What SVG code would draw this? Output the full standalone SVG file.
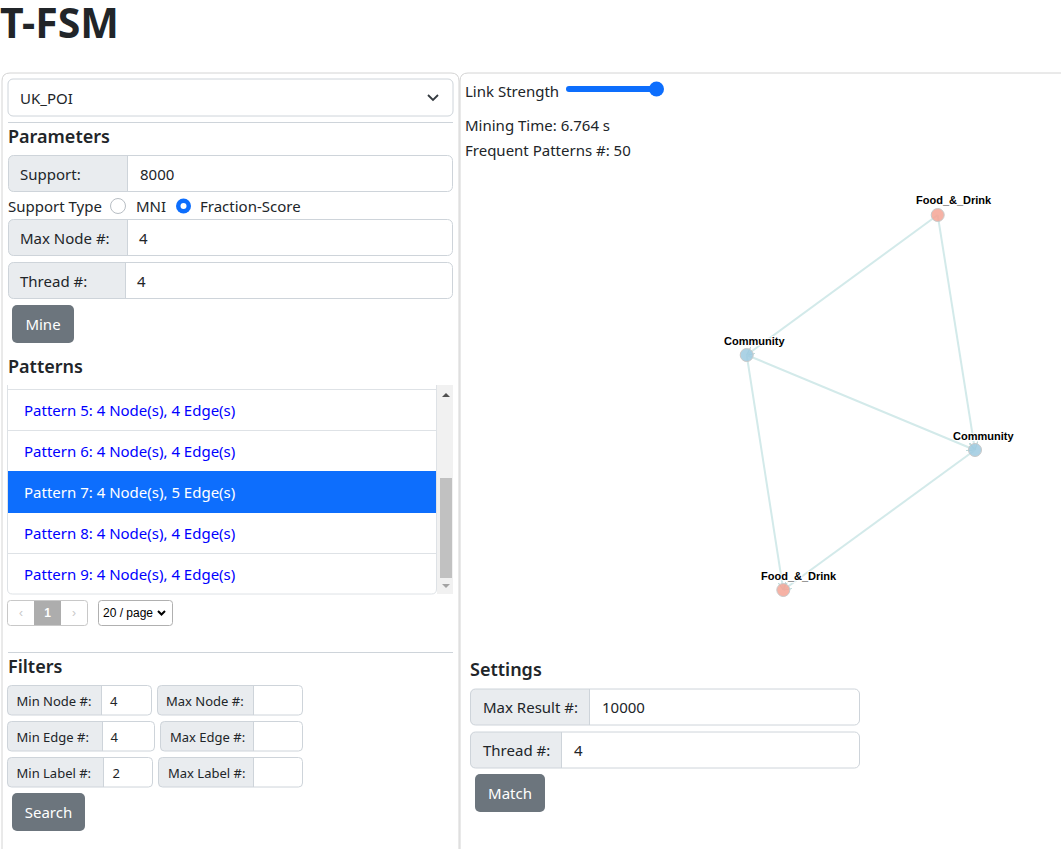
<svg xmlns="http://www.w3.org/2000/svg" width="1061" height="849" viewBox="0 0 1061 849">
<style>
text{font-family:"Noto Sans","Open Sans","DejaVu Sans",sans-serif;fill:#212529}
.t{font-size:15px}
.s{font-size:13px}
.h{font-size:18px;font-weight:600}
.lbl{fill:#e9ecef}
.box{fill:none;stroke:#ced4da;stroke-width:1}
.inp{fill:#fff;stroke:#ced4da;stroke-width:1}
.sep{stroke:#ced4da;stroke-width:1}
.btn{fill:#6c757d}
.bt{fill:#fff;font-size:15px;text-anchor:middle}
.pat{fill:#0000ff;font-size:15px}
.edge{stroke:#d3eaea;stroke-width:2;fill:none}
.nl{font-family:"Liberation Sans",Arial,sans-serif;font-size:11px;font-weight:bold;fill:#000;stroke:#fff;stroke-width:2;paint-order:stroke}
.food{fill:#f4a595;fill-opacity:0.85;stroke:#c8c8c8;stroke-width:1}
.comm{fill:#9ecae1;fill-opacity:0.85;stroke:#c8c8c8;stroke-width:1}
</style>
<defs>
<marker id="arr" viewBox="0 0 10 10" refX="10" refY="5" markerWidth="4" markerHeight="4" orient="auto" markerUnits="strokeWidth">
<path d="M0,0 L10,5 L0,10" fill="none" stroke="#b9d9d9" stroke-width="1.5"/>
</marker>
</defs>
<rect width="1061" height="849" fill="#fff"/>

<text x="0" y="38" style="font-size:41px;font-weight:bold">T-FSM</text>

<!-- left panel -->
<g id="left-panel">
<path d="M2,860 V81 Q2,73 10,73 H451 Q459,73 459,81 V860" fill="none" stroke="#d4d4d4"/>
<g id="dataset-select">
<rect x="8" y="79" width="445" height="37" rx="5" class="inp"/>
<text x="20" y="104" class="t">UK_POI</text>
<path d="M428,95 l5,5 l5,-5" fill="none" stroke="#343a40" stroke-width="1.8"/>
</g>
<line x1="8" y1="122.5" x2="453" y2="122.5" class="sep"/>
<text x="8" y="143" class="h">Parameters</text>
<g id="support">
<rect x="8.5" y="155.5" width="444" height="36" rx="5" fill="#fff"/>
<path d="M127,155.5 H13 Q8.5,155.5 8.5,160 V187 Q8.5,191.5 13,191.5 H127 Z" class="lbl"/>
<rect x="8.5" y="155.5" width="444" height="36" rx="5" class="box"/>
<line x1="127.5" y1="155.5" x2="127.5" y2="191.5" class="sep"/>
<text x="20" y="180" class="t">Support:</text>
<text x="140" y="180" class="t">8000</text>
</g>
<g id="support-type">
<text x="8" y="212" class="t">Support Type</text>
<circle cx="118" cy="206" r="7.5" fill="#fff" stroke="#b8bec4"/>
<text x="136" y="212" class="t">MNI</text>
<circle cx="183.5" cy="206" r="7.5" fill="#0d6efd"/>
<circle cx="183.5" cy="206" r="3" fill="#fff"/>
<text x="200" y="212" class="t">Fraction-Score</text>
</g>
<g id="max-node">
<path d="M127,219.5 H13 Q8.5,219.5 8.5,224 V251 Q8.5,255.5 13,255.5 H127 Z" class="lbl"/>
<rect x="8.5" y="219.5" width="444" height="36" rx="5" class="box"/>
<line x1="127.5" y1="219.5" x2="127.5" y2="255.5" class="sep"/>
<text x="20" y="244" class="t">Max Node #:</text>
<text x="139" y="244" class="t">4</text>
</g>
<g id="thread">
<path d="M125,262.5 H13 Q8.5,262.5 8.5,267 V294 Q8.5,298.5 13,298.5 H125 Z" class="lbl"/>
<rect x="8.5" y="262.5" width="444" height="36" rx="5" class="box"/>
<line x1="125.5" y1="262.5" x2="125.5" y2="298.5" class="sep"/>
<text x="20" y="287" class="t">Thread #:</text>
<text x="137" y="287" class="t">4</text>
</g>
<g id="mine-btn">
<rect x="12" y="305" width="62" height="38" rx="5" class="btn"/>
<text x="43" y="330" class="bt">Mine</text>
</g>
<text x="8" y="373" class="h">Patterns</text>
<g id="pattern-list">
<rect x="437" y="385" width="16" height="209" fill="#f1f1f1"/>
<rect x="440" y="478" width="12" height="100" fill="#c1c1c1"/>
<path d="M442,397 l4,-4 l4,4 Z" fill="#505050"/>
<path d="M442,584 l4,4 l4,-4 Z" fill="#a3a3a3"/>
<rect x="7" y="471" width="430" height="42" fill="#0d6efd"/>
<path d="M7.5,385 V589 Q7.5,594 12.5,594 H431.5 Q436.5,594 436.5,589 V385" fill="none" stroke="#dee2e6"/>
<line x1="7.5" y1="389.5" x2="436.5" y2="389.5" stroke="#dee2e6"/>
<line x1="7.5" y1="430.5" x2="436.5" y2="430.5" stroke="#dee2e6"/>
<line x1="7.5" y1="553.5" x2="436.5" y2="553.5" stroke="#dee2e6"/>
<text x="24" y="416" class="pat">Pattern 5: 4 Node(s), 4 Edge(s)</text>
<text x="24" y="457" class="pat">Pattern 6: 4 Node(s), 4 Edge(s)</text>
<text x="24" y="498" class="pat" style="fill:#fff">Pattern 7: 4 Node(s), 5 Edge(s)</text>
<text x="24" y="539" class="pat">Pattern 8: 4 Node(s), 4 Edge(s)</text>
<text x="24" y="580" class="pat">Pattern 9: 4 Node(s), 4 Edge(s)</text>
</g>
<g id="pagination">
<rect x="34" y="600.5" width="27" height="25" fill="#adadad"/>
<rect x="7.5" y="600.5" width="80" height="25" rx="3" fill="none" stroke="#c8c8c8"/>
<text x="21" y="617" style="font-family:'Liberation Sans',sans-serif;font-size:12px;fill:#c8c8c8" text-anchor="middle">‹</text>
<text x="47.5" y="617" style="font-family:'Liberation Sans',sans-serif;font-size:12px;font-weight:bold;fill:#fff" text-anchor="middle">1</text>
<text x="74" y="617" style="font-family:'Liberation Sans',sans-serif;font-size:12px;fill:#c8c8c8" text-anchor="middle">›</text>
<rect x="98.5" y="600.5" width="74" height="25" rx="3" fill="#fff" stroke="#b0b0b0"/>
<text x="103" y="617" style="font-family:'Liberation Sans',sans-serif;font-size:12px;fill:#000">20 / page</text>
<path d="M158,611 l3.5,3.5 l3.5,-3.5" fill="none" stroke="#000" stroke-width="2"/>
</g>
<line x1="8" y1="652.5" x2="453" y2="652.5" class="sep"/>
<text x="8" y="673" class="h">Filters</text>
<g id="filters">
<path d="M101,685.5 H11 Q7.5,685.5 7.5,689 V711.5 Q7.5,715 11,715 H101 Z" class="lbl"/>
<rect x="7.5" y="685.5" width="144" height="29.5" rx="4" class="box"/>
<line x1="101.5" y1="685.5" x2="101.5" y2="715" class="sep"/>
<text x="16.5" y="706" class="s">Min Node #:</text>
<text x="110" y="706" class="s">4</text>

<path d="M253,685.5 H161 Q157.5,685.5 157.5,689 V711.5 Q157.5,715 161,715 H253 Z" class="lbl"/>
<rect x="157.5" y="685.5" width="145" height="29.5" rx="4" class="box"/>
<line x1="253.5" y1="685.5" x2="253.5" y2="715" class="sep"/>
<text x="166" y="706" class="s">Max Node #:</text>

<path d="M102,721.5 H11 Q7.5,721.5 7.5,725 V747.5 Q7.5,751 11,751 H102 Z" class="lbl"/>
<rect x="7.5" y="721.5" width="147" height="29.5" rx="4" class="box"/>
<line x1="102.5" y1="721.5" x2="102.5" y2="751" class="sep"/>
<text x="16.5" y="742" class="s">Min Edge #:</text>
<text x="110.5" y="742" class="s">4</text>

<path d="M253,721.5 H164 Q160.5,721.5 160.5,725 V747.5 Q160.5,751 164,751 H253 Z" class="lbl"/>
<rect x="160.5" y="721.5" width="142" height="29.5" rx="4" class="box"/>
<line x1="253.5" y1="721.5" x2="253.5" y2="751" class="sep"/>
<text x="170" y="742" class="s">Max Edge #:</text>

<path d="M103,757.5 H11 Q7.5,757.5 7.5,761 V783.5 Q7.5,787 11,787 H103 Z" class="lbl"/>
<rect x="7.5" y="757.5" width="145" height="29.5" rx="4" class="box"/>
<line x1="103.5" y1="757.5" x2="103.5" y2="787" class="sep"/>
<text x="16.5" y="778" class="s">Min Label #:</text>
<text x="112.5" y="778" class="s">2</text>

<path d="M253,757.5 H162 Q158.5,757.5 158.5,761 V783.5 Q158.5,787 162,787 H253 Z" class="lbl"/>
<rect x="158.5" y="757.5" width="144" height="29.5" rx="4" class="box"/>
<line x1="253.5" y1="757.5" x2="253.5" y2="787" class="sep"/>
<text x="168" y="778" class="s">Max Label #:</text>
</g>
<g id="search-btn">
<rect x="12" y="793" width="73" height="38" rx="5" class="btn"/>
<text x="48.5" y="818" class="bt">Search</text>
</g>
</g>

<!-- right panel -->
<g id="right-panel">
<path d="M460,860 V81 Q460,73 468,73 H1070" fill="none" stroke="#d4d4d4"/>
<text x="465" y="97" class="t">Link Strength</text>
<line x1="569" y1="89" x2="656" y2="89" stroke="#0d6efd" stroke-width="6" stroke-linecap="round"/>
<circle cx="656.5" cy="89" r="7.5" fill="#0d6efd"/>
<text x="465" y="131" class="t">Mining Time: 6.764 s</text>
<text x="465" y="156" class="t">Frequent Patterns #: 50</text>
</g>

<g id="connectors">
<line x1="937.7" y1="215" x2="746.7" y2="355" class="edge" marker-end="url(#arr)"/>
<line x1="937.7" y1="215" x2="975" y2="450" class="edge" marker-end="url(#arr)"/>
<line x1="746.7" y1="355" x2="975" y2="450" class="edge" marker-end="url(#arr)"/>
<line x1="746.7" y1="355" x2="783.3" y2="590" class="edge" marker-end="url(#arr)"/>
<line x1="975" y1="450" x2="783.3" y2="590" class="edge" marker-end="url(#arr)"/>
</g>
<g id="node-food-top">
<circle cx="937.7" cy="215" r="6.5" class="food"/>
<text x="916" y="204" class="nl">Food_&amp;_Drink</text>
</g>
<g id="node-community-left">
<circle cx="746.7" cy="355" r="6.5" class="comm"/>
<text x="724" y="345" class="nl">Community</text>
</g>
<g id="node-community-right">
<circle cx="975" cy="450" r="6.5" class="comm"/>
<text x="953" y="440" class="nl">Community</text>
</g>
<g id="node-food-bottom">
<circle cx="783.3" cy="590" r="6.5" class="food"/>
<text x="761" y="580" class="nl">Food_&amp;_Drink</text>
</g>

<g id="settings">
<text x="470" y="676" class="h">Settings</text>
<path d="M589.5,689 H475 Q470.5,689 470.5,693.5 V720.5 Q470.5,725 475,725 H589.5 Z" class="lbl"/>
<rect x="470.5" y="689" width="389" height="36" rx="5" class="box"/>
<line x1="589.5" y1="689" x2="589.5" y2="725" class="sep"/>
<text x="483" y="713" class="t">Max Result #:</text>
<text x="602" y="713" class="t">10000</text>
<path d="M561.5,732 H475 Q470.5,732 470.5,736.5 V763.5 Q470.5,768 475,768 H561.5 Z" class="lbl"/>
<rect x="470.5" y="732" width="389" height="36" rx="5" class="box"/>
<line x1="561.5" y1="732" x2="561.5" y2="768" class="sep"/>
<text x="483" y="756" class="t">Thread #:</text>
<text x="574" y="756" class="t">4</text>
</g>
<g id="match-btn">
<rect x="475" y="774" width="70" height="38" rx="5" class="btn"/>
<text x="510" y="799" class="bt">Match</text>
</g>
</svg>
